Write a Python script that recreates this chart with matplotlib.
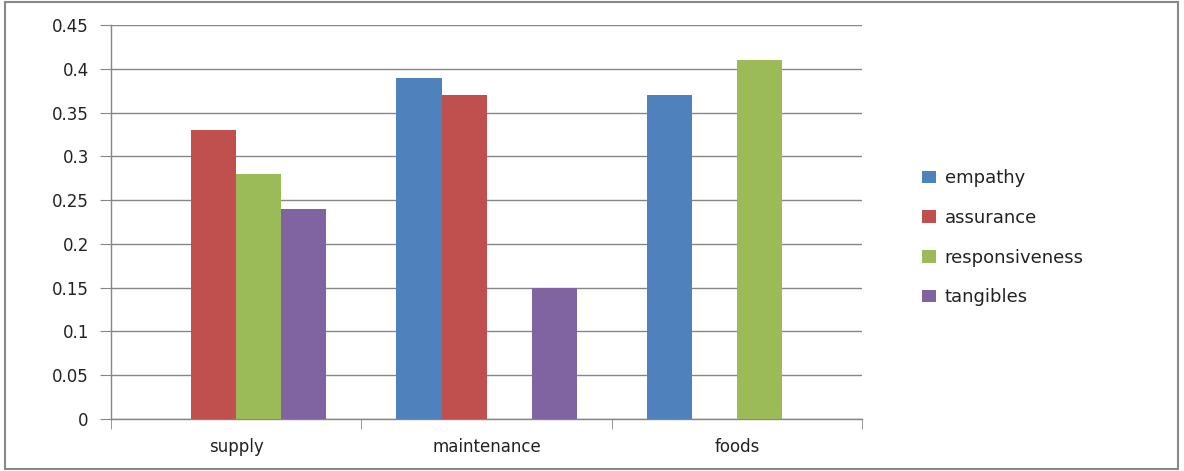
import numpy as np
import matplotlib.pyplot as plt
from matplotlib.patches import Rectangle

plt.rcParams["font.family"] = "DejaVu Sans"

categories = ["supply", "maintenance", "foods"]
series_names = ["empathy", "assurance", "responsiveness", "tangibles"]
empathy = [0.0, 0.39, 0.37]
assurance = [0.33, 0.37, 0.0]
responsiveness = [0.28, 0.0, 0.41]
tangibles = [0.24, 0.15, 0.0]
colors = ["#4F81BD", "#C0504D", "#9BBB59", "#8064A2"]

values = [empathy, assurance, responsiveness, tangibles]

fig = plt.figure(figsize=(11.84, 4.71), dpi=100)
ax = fig.add_axes([0.0938, 0.1104, 0.6343, 0.8365])

x = np.arange(len(categories))
bw = 0.18
for i, (name, vals) in enumerate(zip(series_names, values)):
    ax.bar(x + (i - 1.5) * bw, vals, bw, color=colors[i], label=name, zorder=3)

ax.set_xlim(-0.5, 2.5)
ax.set_ylim(0, 0.45)
ax.set_yticks(np.arange(0, 0.451, 0.05))
ax.set_yticklabels(["0", "0.05", "0.1", "0.15", "0.2", "0.25", "0.3", "0.35", "0.4", "0.45"])
ax.set_xticks(x)
ax.set_xticklabels(categories)
ax.set_xticks([-0.5, 0.5, 1.5, 2.5], minor=True)
ax.tick_params(axis="x", which="major", length=0, pad=14)
ax.tick_params(axis="x", which="minor", length=7, color="#868686")
ax.tick_params(axis="y", length=8, color="#868686", pad=8)
ax.tick_params(labelsize=12, labelcolor="#222222")
ax.grid(axis="y", color="#868686", linewidth=1.0, zorder=0)
for s in ["top", "right"]:
    ax.spines[s].set_visible(False)
for s in ["left", "bottom"]:
    ax.spines[s].set_color("#868686")
    ax.spines[s].set_linewidth(1.0)

fig.legend(loc="center left", bbox_to_anchor=(0.765, 0.495), frameon=False,
           fontsize=13, handlelength=0.8, handleheight=0.7,
           labelspacing=1.2, handletextpad=0.45, labelcolor="#222222")

fig.patches.append(Rectangle((0.004, 0.004), 0.991, 0.992, transform=fig.transFigure,
                             fill=False, edgecolor="#888888", linewidth=1.5))

fig.savefig("out.png", dpi=100)
